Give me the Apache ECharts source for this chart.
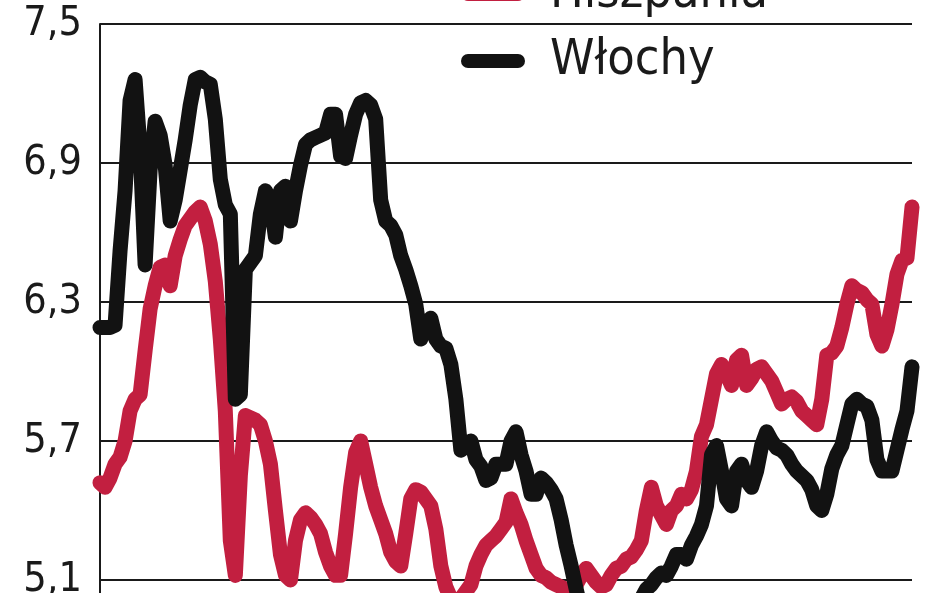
<!DOCTYPE html>
<html>
<head>
<meta charset="utf-8">
<script src="https://cdn.jsdelivr.net/npm/echarts@6/dist/echarts.min.js"></script>
<style>
html,body{margin:0;padding:0;background:#fff;width:948px;height:593px;overflow:hidden;}
#chart{width:948px;height:760px;}
</style>
</head>
<body>
<div id="chart"></div>
<script>
// Series names (legend)
const seriesNames = ['Hiszpania', 'Włochy'];

// Y axis tick values (labels shown with decimal comma)
const yTicks = [4.5, 5.1, 5.7, 6.3, 6.9, 7.5];

// Hiszpania – values
const hiszpania = [
  5.52,5.50,5.54,5.60,5.63,5.70,5.83,5.88,5.90,6.09,
  6.27,6.37,6.45,6.46,6.37,6.50,6.57,6.63,6.66,6.69,
  6.71,6.65,6.55,6.39,6.14,5.83,5.27,5.12,5.55,5.81,
  5.80,5.79,5.77,5.70,5.60,5.40,5.21,5.12,5.10,5.27,
  5.36,5.39,5.37,5.34,5.30,5.22,5.16,5.12,5.12,5.30,
  5.50,5.65,5.70,5.60,5.50,5.42,5.36,5.30,5.22,5.18,
  5.16,5.30,5.45,5.49,5.48,5.45,5.42,5.32,5.16,5.07,
  5.02,5.01,5.02,5.05,5.08,5.16,5.21,5.25,5.27,5.29,
  5.32,5.35,5.45,5.39,5.34,5.27,5.21,5.15,5.12,5.11,
  5.09,5.08,5.07,5.06,5.06,5.08,5.12,5.15,5.12,5.09,
  5.07,5.08,5.12,5.15,5.16,5.19,5.20,5.23,5.27,5.40,
  5.50,5.42,5.38,5.34,5.40,5.42,5.47,5.45,5.49,5.57,
  5.72,5.77,5.88,5.99,6.03,5.99,5.94,6.05,6.07,5.94,
  5.97,6.01,6.02,5.99,5.96,5.91,5.86,5.88,5.89,5.87,
  5.83,5.81,5.79,5.77,5.88,6.07,6.08,6.11,6.19,6.29,
  6.37,6.35,6.34,6.31,6.29,6.16,6.11,6.18,6.29,6.42,
  6.48,6.49,6.71
];

// Włochy – values
const wlochy = [
  6.19,6.19,6.19,6.20,6.52,6.78,7.17,7.26,6.96,6.46,
  6.87,7.08,7.02,6.89,6.65,6.74,6.87,7.00,7.15,7.26,
  7.27,7.25,7.24,7.09,6.83,6.72,6.68,5.88,5.90,6.44,
  6.47,6.50,6.68,6.78,6.74,6.58,6.78,6.80,6.65,6.78,
  6.89,6.98,7.00,7.01,7.02,7.03,7.11,7.11,6.93,6.92,
  7.02,7.11,7.16,7.17,7.15,7.09,6.74,6.65,6.63,6.59,
  6.50,6.44,6.37,6.29,6.14,6.20,6.23,6.14,6.11,6.10,
  6.03,5.88,5.66,5.68,5.70,5.62,5.59,5.53,5.54,5.60,
  5.60,5.60,5.70,5.74,5.64,5.57,5.47,5.47,5.54,5.52,
  5.49,5.45,5.36,5.25,5.16,5.06,4.97,4.93,4.91,4.88,
  4.89,4.91,4.88,4.91,4.93,4.95,4.96,4.99,5.02,5.06,
  5.08,5.11,5.13,5.12,5.16,5.21,5.21,5.19,5.25,5.29,
  5.34,5.42,5.64,5.68,5.57,5.45,5.42,5.57,5.60,5.53,
  5.50,5.57,5.68,5.74,5.70,5.67,5.66,5.64,5.60,5.57,
  5.55,5.53,5.49,5.42,5.40,5.47,5.58,5.64,5.68,5.77,
  5.86,5.88,5.86,5.85,5.79,5.62,5.57,5.57,5.57,5.66,
  5.75,5.83,6.02
];

// Category labels (hidden on the chart) – one per observation
const categories = hiszpania.map((_, i) => String(i + 1));

const RED = '#c21f40';
const BLACK = '#121212';
const pill = 'path://M7,0 L57,0 A7,7 0 0 1 57,14 L7,14 A7,7 0 0 1 7,0 Z';
const condFont = "'DejaVu Sans Condensed','Liberation Sans Narrow','DejaVu Sans',sans-serif";

const chart = echarts.init(document.getElementById('chart'), null, {renderer: 'canvas'});
chart.setOption({
  animation: false,
  backgroundColor: '#ffffff',
  grid: {left: 100, right: 36, top: 24, height: 695},
  legend: [
    {
      data: [seriesNames[0]], orient: 'vertical', left: 456, top: -36,
      icon: pill, itemWidth: 64, itemHeight: 15,
      textStyle: {fontFamily: condFont, fontSize: 50, color: '#1a1a1a', padding: [0,0,0,20]}
    },
    {
      data: [seriesNames[1]], orient: 'vertical', left: 456, top: 31,
      icon: pill, itemWidth: 64, itemHeight: 15,
      textStyle: {fontFamily: condFont, fontSize: 50, color: '#1a1a1a', padding: [0,0,0,20]}
    }
  ],
  xAxis: {
    type: 'category', data: categories, boundaryGap: false,
    axisLine: {show: false}, axisTick: {show: false}, axisLabel: {show: false}, splitLine: {show: false}
  },
  yAxis: {
    type: 'value', min: yTicks[0], max: yTicks[yTicks.length - 1], interval: 0.6,
    axisLine: {show: true, lineStyle: {color: '#1a1a1a', width: 2}},
    axisTick: {show: false},
    splitLine: {show: true, lineStyle: {color: '#1a1a1a', width: 2}},
    axisLabel: {
      margin: 18, fontSize: 41, color: '#1a1a1a',
      fontFamily: condFont,
      formatter: v => v.toFixed(1).replace('.', ',')
    }
  },
  series: [
    {
      name: seriesNames[0], type: 'line', data: hiszpania, showSymbol: false, symbol: 'none',
      lineStyle: {color: RED, width: 15, cap: 'round', join: 'round'},
      itemStyle: {color: RED}, z: 2
    },
    {
      name: seriesNames[1], type: 'line', data: wlochy, showSymbol: false, symbol: 'none',
      lineStyle: {color: BLACK, width: 15, cap: 'round', join: 'round'},
      itemStyle: {color: BLACK}, z: 3
    }
  ]
});
</script>
</body>
</html>
